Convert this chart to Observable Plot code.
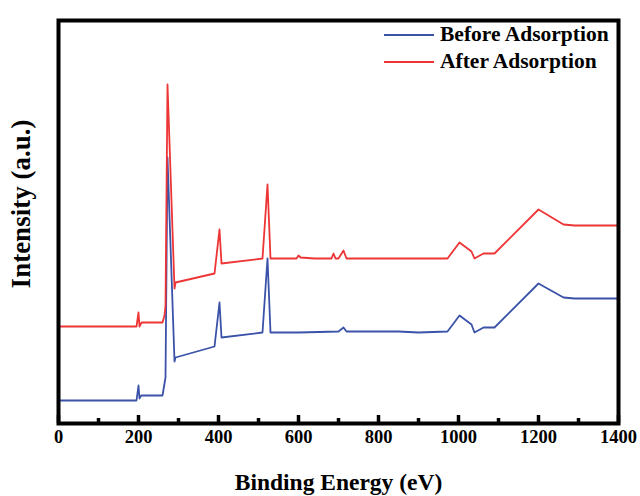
<!DOCTYPE html>
<html>
<head>
<meta charset="utf-8">
<script src="https://cdn.jsdelivr.net/npm/d3@7"></script>
<script src="https://cdn.jsdelivr.net/npm/@observablehq/plot@0.6"></script>
<style>
  body { margin: 0; background: #fff; }
  #wrap { position: relative; width: 640px; height: 496px; overflow: hidden; }
  #legend { position: absolute; left: 384px; top: 21px; font-family: "Liberation Serif", "Times New Roman", serif; font-weight: bold; font-size: 21.5px; color: #000; }
  .row { display: flex; align-items: center; height: 27px; }
  .swatch { width: 50px; height: 2px; margin-right: 6px; }
</style>
</head>
<body>
<div id="wrap"></div>
<script>
// Binding energy (eV) and intensity (a.u.)
const beforeEnergy = [0, 195, 200, 202.5, 205, 207.5, 260, 265, 267.5, 272.5, 290, 292.5, 390, 402.5, 407.5, 510, 522.5, 530, 600, 700, 712.5, 720, 850, 900, 972.5, 1002.5, 1032.5, 1040, 1062.5, 1090, 1200, 1262.5, 1290, 1400];
const beforeIntensity = [27, 27, 42, 29, 31, 32, 32, 44, 50, 270, 66, 70, 81, 125, 90, 95, 169, 95, 95, 96, 100, 96, 96, 95, 96, 112, 103, 95, 100, 100, 144, 130, 129, 129];

const afterEnergy = [0, 195, 200, 202.5, 207.5, 260, 265, 267.5, 272.5, 290, 292.5, 390, 402.5, 407.5, 510, 522.5, 530, 595, 600, 605, 640, 682.5, 687.5, 692.5, 700, 712.5, 720, 850, 972.5, 1002.5, 1032.5, 1040, 1062.5, 1090, 1200, 1262.5, 1290, 1400];
const afterIntensity = [101, 101, 115, 101, 105, 105, 112, 122, 343, 139, 145, 154, 198, 164, 169, 243, 169, 169, 172, 170, 169, 169, 174, 169, 169, 177, 169, 169, 169, 185, 176, 169, 174, 174, 218, 203, 202, 202];

const seriesNames = ["Before Adsorption", "After Adsorption"];
const seriesColors = ["#3a52a8", "#ee3535"];
const majorTicks = [0, 200, 400, 600, 800, 1000, 1200, 1400];
const minorTicks = [100, 300, 500, 700, 900, 1100, 1300];
const xLabel = "Binding Energy (eV)";
const yLabel = "Intensity (a.u.)";

const before = beforeEnergy.map((e, i) => ({energy: e, intensity: beforeIntensity[i]}));
const after = afterEnergy.map((e, i) => ({energy: e, intensity: afterIntensity[i]}));

const font = "'Liberation Serif', 'Times New Roman', serif";

const chart = Plot.plot({
  width: 640,
  height: 496,
  marginLeft: 58,
  marginRight: 22,
  marginTop: 20,
  marginBottom: 73,
  style: {fontFamily: font, fontWeight: "bold", background: "#fff"},
  x: {domain: [0, 1400]},
  y: {domain: [4, 407]},
  marks: [
    Plot.line(before, {x: "energy", y: "intensity", stroke: seriesColors[0], strokeWidth: 1.8}),
    Plot.line(after, {x: "energy", y: "intensity", stroke: seriesColors[1], strokeWidth: 1.8}),
    Plot.axisX({ticks: majorTicks, tickSize: -8, strokeWidth: 3.5, tickPadding: 14, fontSize: 18.5, fontWeight: "bold", label: null, tickFormat: d => String(d)}),
    Plot.axisX({ticks: minorTicks, tickSize: -5, strokeWidth: 3.5, text: null, label: null}),
    Plot.axisY({ticks: [], label: null}),
    Plot.frame({stroke: "#000", strokeWidth: 4}),
    Plot.text([xLabel], {frameAnchor: "bottom", dy: 66, fontSize: 23.5, fontWeight: "bold", fill: "#000"}),
    Plot.text([yLabel], {frameAnchor: "left", textAnchor: "middle", dx: -37, dy: -18, rotate: -90, fontSize: 27, fontWeight: "bold", fill: "#000"})
  ]
});

const wrap = document.getElementById("wrap");
wrap.appendChild(chart);

const legend = document.createElement("div");
legend.id = "legend";
seriesNames.forEach((name, i) => {
  const row = document.createElement("div");
  row.className = "row";
  const sw = document.createElement("div");
  sw.className = "swatch";
  sw.style.background = seriesColors[i];
  const label = document.createElement("span");
  label.textContent = name;
  row.appendChild(sw);
  row.appendChild(label);
  legend.appendChild(row);
});
wrap.appendChild(legend);
</script>
</body>
</html>
